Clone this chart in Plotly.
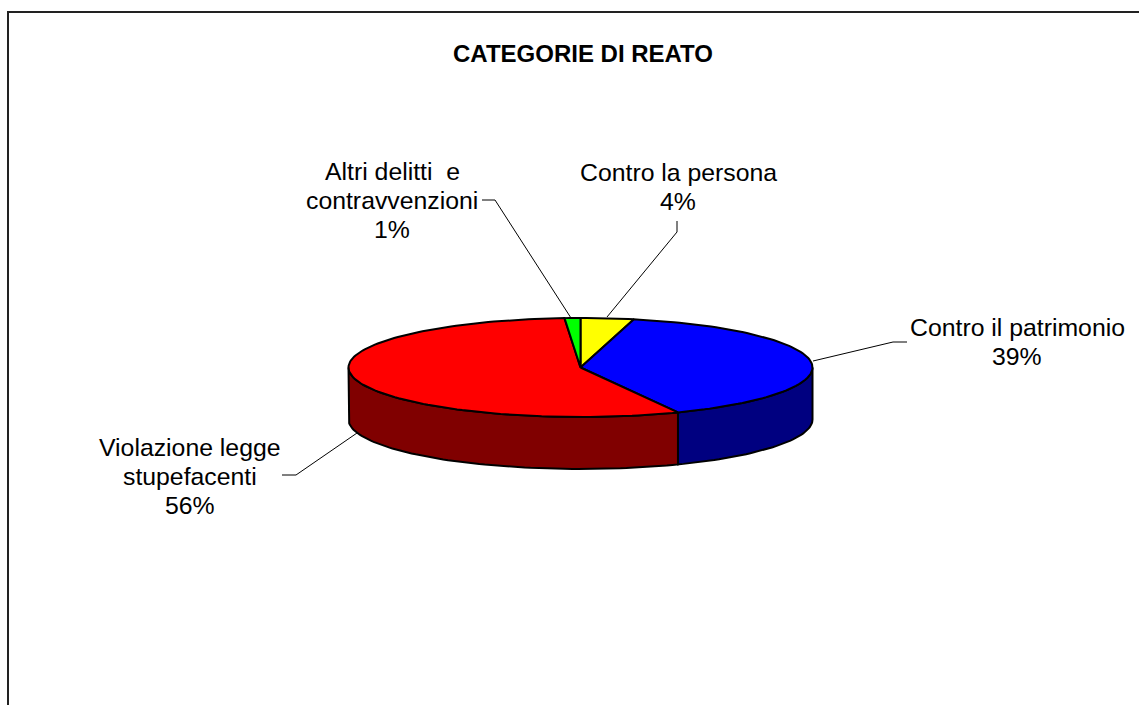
import numpy as np
import plotly.graph_objects as go

TITLE = "CATEGORIE DI REATO"
categories = ["Contro la persona", "Contro il patrimonio", "Violazione legge stupefacenti", "Altri delitti e contravvenzioni"]
values = [3.7, 39.4, 55.8, 1.1]
label_lines = [["Contro la persona"], ["Contro il patrimonio"],
               ["Violazione legge", "stupefacenti"], ["Altri delitti  e", "contravvenzioni"]]
top_colors = ["#FFFF00", "#0000FF", "#FF0000", "#00FF00"]
side_colors = ["#808000", "#000080", "#800000", "#008000"]

W, H = 1139, 705
CX, CY, RX, RY, DEPTH = 580.5, 367.5, 232, 49.5, 52
FONT = "Liberation Sans, Arial, sans-serif"
LABEL_SIZE = 24.8
TITLE_SIZE = 24
LINE_H = 29

label_pos = [(678, 172), (1017, 327), (190, 447), (392, 171)]
leaders = [
    ([677, 677, 607], [221, 232, 317]),
    ([907, 893, 813], [342, 342, 361]),
    ([282, 296, 357], [475, 475, 433]),
    ([482, 495, 571], [200, 200, 318]),
]


def arc(a0, a1, dy=0.0):
    n = max(2, int(abs(a1 - a0) / 1.5) + 2)
    t = np.radians(np.linspace(a0, a1, n))
    return CX + RX * np.sin(t), CY - RY * np.cos(t) + dy


fig = go.Figure()


def poly(x, y, fill):
    fig.add_trace(go.Scatter(x=list(x), y=list(y), mode="lines", fill="toself", fillcolor=fill,
                             line=dict(color="#000000", width=2), hoverinfo="skip", showlegend=False))


fractions = np.cumsum([0] + values) / sum(values) * 360
spans = list(zip(fractions[:-1], fractions[1:]))

for (a0, a1), side in zip(spans, side_colors):
    lo, hi = max(a0, 90), min(a1, 270)
    if hi > lo:
        xt, yt = arc(lo, hi)
        xb, yb = arc(hi, lo, DEPTH)
        poly(np.r_[xt, xb, xt[0]], np.r_[yt, yb, yt[0]], side)

for (a0, a1), top in zip(spans, top_colors):
    xt, yt = arc(a0, a1)
    poly(np.r_[CX, xt, CX], np.r_[CY, yt, CY], top)

for lx, ly in leaders:
    fig.add_trace(go.Scatter(x=lx, y=ly, mode="lines", line=dict(color="#000000", width=1),
                             hoverinfo="skip", showlegend=False))

annotations = [dict(x=583, y=53, text=f"<b>{TITLE}</b>", showarrow=False, xanchor="center", yanchor="middle",
                    font=dict(family=FONT, size=TITLE_SIZE, color="#000000"))]
for lines, value, (px, py) in zip(label_lines, values, label_pos):
    for i, line in enumerate(lines + [f"{round(value)}%"]):
        annotations.append(dict(x=px, y=py + i * LINE_H, text=line, showarrow=False, xanchor="center",
                                yanchor="middle", font=dict(family=FONT, size=LABEL_SIZE, color="#000000")))

axis = dict(visible=False, fixedrange=True, showgrid=False, zeroline=False)
fig.update_layout(
    width=W, height=H, margin=dict(l=0, r=0, t=0, b=0), paper_bgcolor="#FFFFFF", plot_bgcolor="#FFFFFF",
    xaxis=dict(range=[0, W], **axis), yaxis=dict(range=[H, 0], **axis), annotations=annotations,
    shapes=[
        dict(type="line", x0=8, x1=W, y0=12, y1=12, line=dict(color="#222222", width=2)),
        dict(type="line", x0=8, x1=8, y0=11, y1=H, line=dict(color="#222222", width=2)),
    ],
)
fig.write_html("out.html", config=dict(displayModeBar=False),
               post_script="document.body.style.margin='0';document.body.style.overflow='hidden';")
